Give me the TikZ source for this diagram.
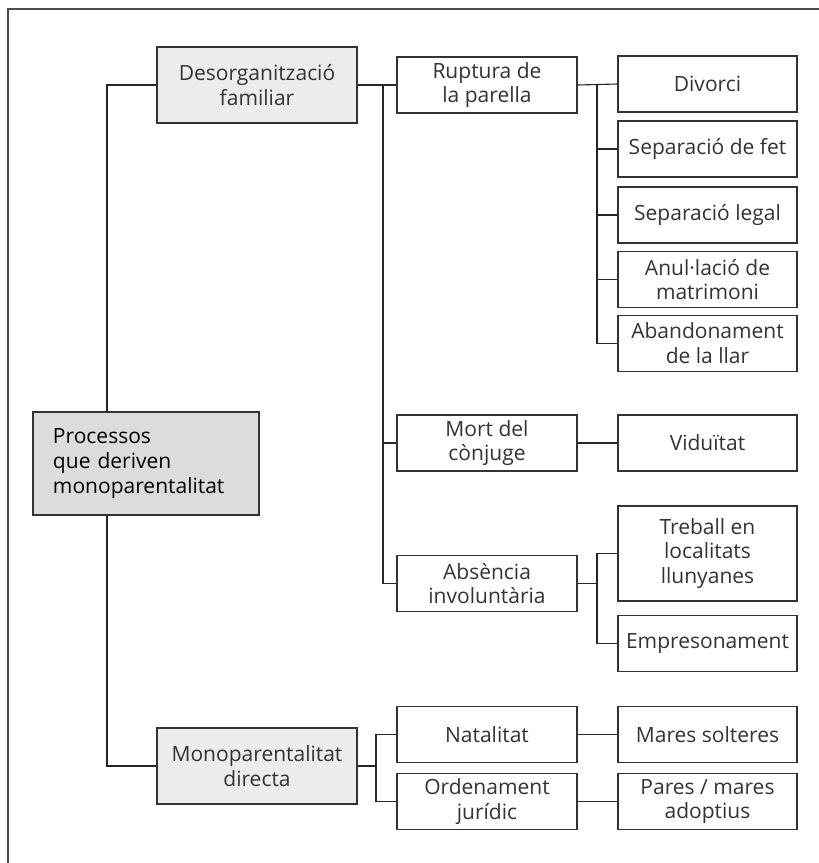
\documentclass[tikz,border=0pt]{standalone}
\usepackage{fontspec}
\setmainfont{Open Sans}
\usetikzlibrary{calc}
\definecolor{boxgray}{HTML}{ECECEC}
\definecolor{rootgray}{HTML}{DCDCDC}
\definecolor{inkgray}{HTML}{333333}
\tikzset{
  box/.style={draw=inkgray, line width=0.6pt, align=center, inner sep=0pt,
    minimum height=28pt, text=inkgray, font=\fontsize{10.5}{12.4}\selectfont},
  midbox/.style={box, minimum width=90pt},
  leafbox/.style={box, minimum width=89.5pt},
  topbox/.style={box, fill=boxgray, minimum width=100pt, minimum height=38pt},
  rootbox/.style={box, fill=rootgray, text=black, align=left, text width=93pt,
    inner xsep=10pt, minimum width=113pt, minimum height=51.5pt},
  link/.style={draw=black!85, line width=0.55pt},
  frame/.style={draw=black!70, line width=1pt},
}
\begin{document}
\begin{tikzpicture}[x=0.5pt,y=-0.5pt]
    \useasboundingbox (0,0) rectangle (819,863);
    \draw[frame] (819,9) -- (8,9) -- (8,863);

    % branch lines
    \coordinate (trunk) at (107,0);
    \coordinate (b1) at (383,0);
    \coordinate (b2) at (597,0);
    \coordinate (b3) at (376,0);

    \node[rootbox] (root) at (146,463.5) {Processos\\que deriven\\monoparentalitat};
    \node[topbox] (desorg) at (257,85) {Desorganització\\familiar};
    \node[topbox] (mono) at (257,766) {Monoparentalitat\\directa};

    \node[midbox] (rupt) at (487,85) {Ruptura de\\la parella};
    \node[midbox] (mort) at (487,443) {Mort del\\cònjuge};
    \node[midbox] (absen) at (487,583.5) {Absència\\involuntària};
    \node[midbox] (natal) at (487,734.5) {Natalitat};
    \node[midbox] (orden) at (487,801.5) {Ordenament\\jurídic};

    \node[leafbox] (divorci) at (707.5,84) {Divorci};
    \node[leafbox] (sepfet) at (707.5,149) {Separació de fet};
    \node[leafbox] (seplegal) at (707.5,215) {Separació legal};
    \node[leafbox] (anul) at (707.5,279.5) {Anul·lació de\\matrimoni};
    \node[leafbox] (aband) at (707.5,343.5) {Abandonament\\de la llar};
    \node[leafbox] (vidu) at (707.5,443) {Viduïtat};
    \node[leafbox, minimum height=47.5pt] (treball) at (707.5,553.5) {Treball en\\localitats\\llunyanes};
    \node[leafbox] (empres) at (707.5,643.5) {Empresonament};
    \node[leafbox] (mares) at (707.5,734.5) {Mares solteres};
    \node[leafbox] (pares) at (707.5,801.5) {Pares / mares\\adoptius};

    % root to first level
    \draw[link] (desorg.west) -| (trunk |- root.north);
    \draw[link] (trunk |- root.south) |- (mono.west);

    % desorganitzacio
    \draw[link] (desorg.east) -- (rupt.west);
    \draw[link] (b1 |- rupt.west) |- (mort.west);
    \draw[link] (b1 |- rupt.west) |- (absen.west);

    % ruptura
    \draw[link] (rupt.east) -- (divorci.west);
    \draw[link] (b2 |- divorci.west) |- (sepfet.west);
    \draw[link] (b2 |- divorci.west) |- (seplegal.west);
    \draw[link] (b2 |- divorci.west) |- (anul.west);
    \draw[link] (b2 |- divorci.west) |- (aband.west);

    \draw[link] (mort.east) -- (vidu.west);

    % absencia
    \draw[link] (absen.east) -- (b2 |- absen.east);
    \draw[link] (treball.west) -| (b2 |- empres.west) -- (empres.west);

    % monoparentalitat directa
    \draw[link] (mono.east) -- (b3 |- mono.east);
    \draw[link] (natal.west) -| (b3 |- orden.west) -- (orden.west);
    \draw[link] (natal.east) -- (mares.west);
    \draw[link] (orden.east) -- (pares.west);
\end{tikzpicture}
\end{document}
